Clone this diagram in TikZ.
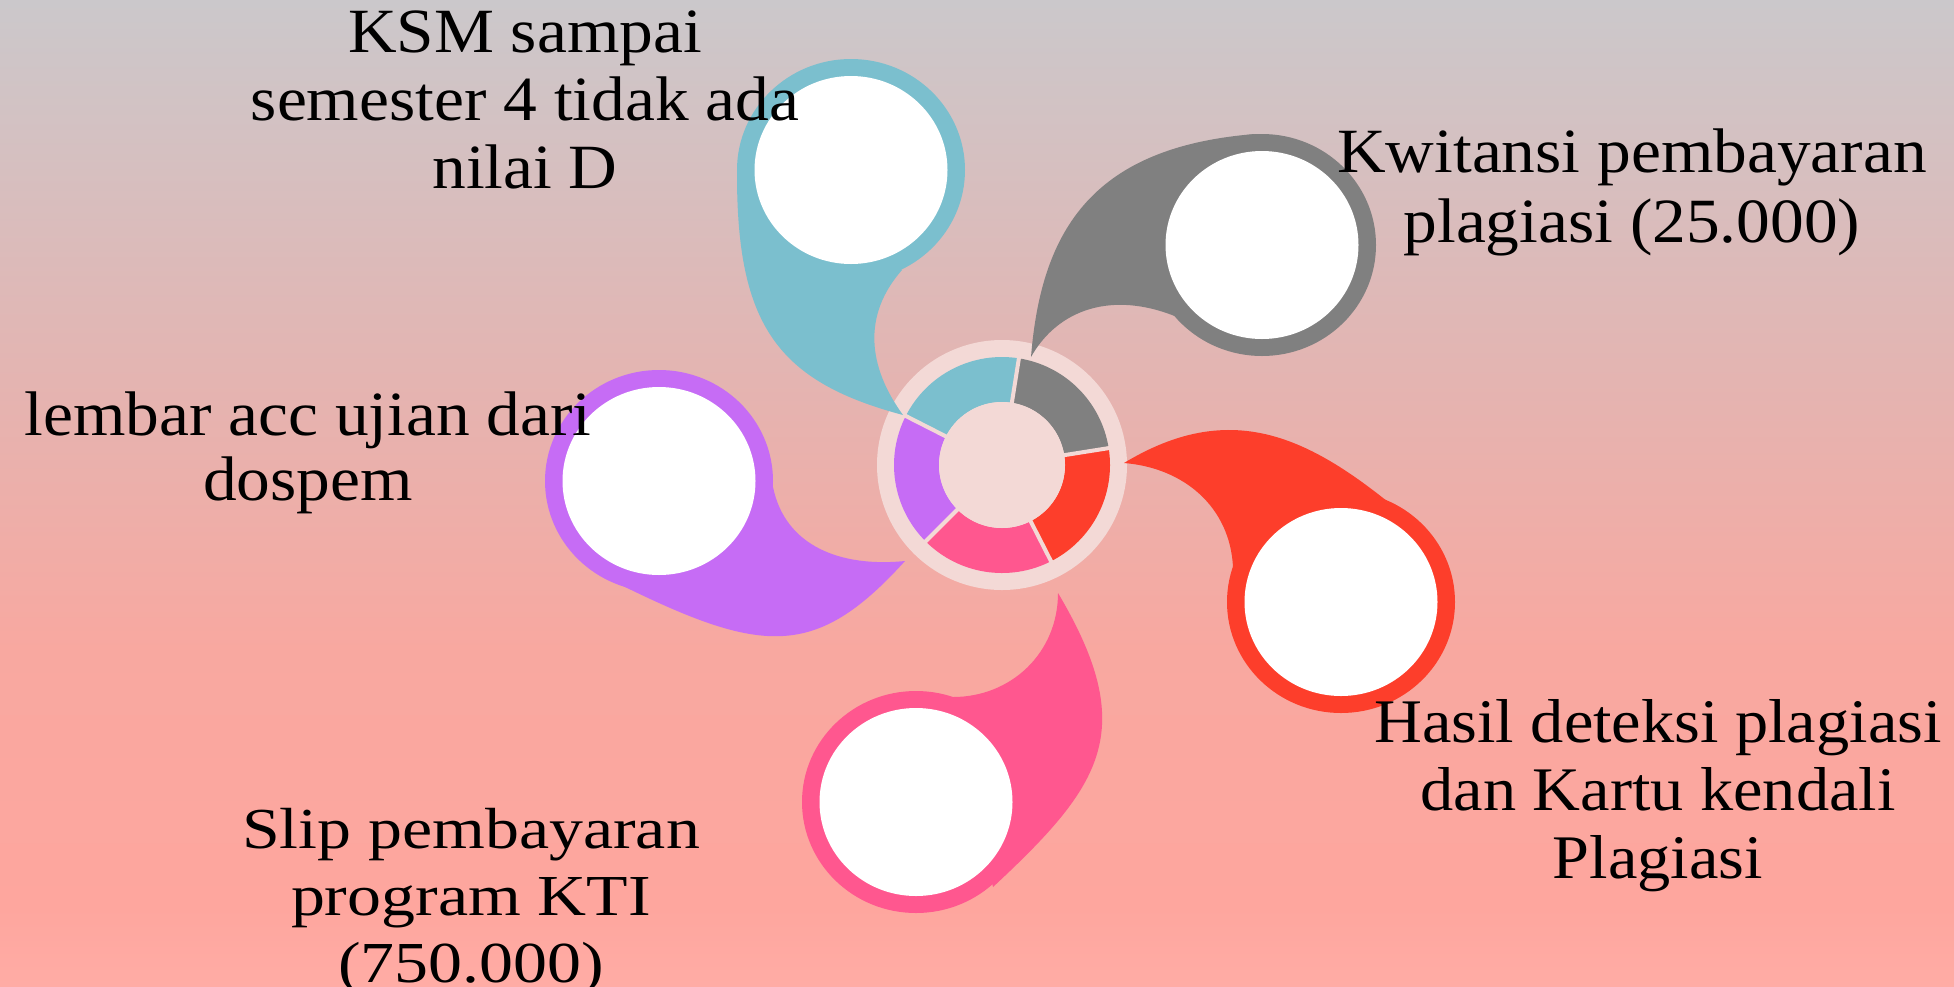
\documentclass[tikz,border=0pt]{standalone}
\usepackage{fontspec}
\setmainfont{Liberation Serif}
\newfontfamily\lblfont[FakeStretch=1.07]{Liberation Serif}
\newfontfamily\slipfont[FakeStretch=1.17]{Liberation Serif}

\definecolor{cyanp}{RGB}{123,191,206}
\definecolor{grayp}{RGB}{128,128,128}
\definecolor{redp}{RGB}{253,62,43}
\definecolor{pinkp}{RGB}{255,87,143}
\definecolor{purplep}{RGB}{198,108,245}
\definecolor{ringc}{RGB}{243,217,214}
\definecolor{bgA}{RGB}{255,172,165}
\definecolor{bgB}{RGB}{254,166,158}
\definecolor{bgC}{RGB}{248,168,160}
\definecolor{bgD}{RGB}{228,180,177}
\definecolor{bgE}{RGB}{203,200,203}

\pgfdeclareverticalshading{bgshade}{100bp}{color(0bp)=(bgA); color(25bp)=(bgA); color(29bp)=(bgB); color(42bp)=(bgC); color(55.7bp)=(bgD); color(75bp)=(bgE); color(100bp)=(bgE)}

\newcommand\lblbox[1]{\begin{tabular}[t]{@{}c@{}}#1\end{tabular}}

\tikzset{
  outerc/.style={x radius=114, y radius=111},
  innerc/.style={x radius=96.5, y radius=94},
  labeltext/.style={anchor=base, inner sep=0pt, text=black}
}

\begin{document}
\begin{tikzpicture}[x=1pt,y=-1pt]
\useasboundingbox (0,0) rectangle (1954,986);
\shade[shading=bgshade] (0,0) rectangle (1954,986);

% centre ring
\begin{scope}[shift={(1002,465)}]
  \coordinate (hub) at (0,0);
  \fill[ringc] (hub) circle[radius=125];
  \fill[grayp]   (-9:108)   arc[start angle=-9,   end angle=-81,  radius=108] -- (-81:63)  arc[start angle=-81,  end angle=-9,   radius=63] -- cycle;
  \fill[cyanp]   (-81:108)  arc[start angle=-81,  end angle=-153, radius=108] -- (-153:63) arc[start angle=-153, end angle=-81,  radius=63] -- cycle;
  \fill[purplep] (-153:108) arc[start angle=-153, end angle=-225, radius=108] -- (-225:63) arc[start angle=-225, end angle=-153, radius=63] -- cycle;
  \fill[pinkp]   (-225:108) arc[start angle=-225, end angle=-297, radius=108] -- (-297:63) arc[start angle=-297, end angle=-225, radius=63] -- cycle;
  \fill[redp]    (-297:108) arc[start angle=-297, end angle=-369, radius=108] -- (-369:63) arc[start angle=-369, end angle=-297, radius=63] -- cycle;
  \foreach \a in {-9,-81,-153,-225,-297} \draw[ringc, line width=4] (hub) -- (\a:112);
  \fill[ringc] (hub) circle[radius=63];
\end{scope}

% cyan petal
\coordinate (cyC) at (851,170);
\fill[cyanp] (cyC) ellipse[outerc];
\fill[cyanp] (903,415) .. controls (777.4,381.5) and (737,325) .. (737,175) -- (902,270) .. controls (862.4,315) and (867.6,366.4) .. (903,415) -- cycle;
\fill[white] (cyC) ellipse[innerc];

% gray petal
\coordinate (grC) at (1262,245);
\fill[grayp] (grC) ellipse[outerc];
\fill[grayp] (1031,357) .. controls (1041.4,227) and (1095,146.8) .. (1255,134) -- (1177,317) .. controls (1112.6,290.4) and (1058,309) .. (1031,357) -- cycle;
\fill[white] (grC) ellipse[innerc];

% red petal
\coordinate (rdC) at (1341,602);
\fill[redp] (rdC) ellipse[outerc];
\fill[redp] (1124,463) .. controls (1244.4,390.2) and (1328,447.6) .. (1433,540) -- (1233,567) .. controls (1230,507) and (1184,467.8) .. (1124,463) -- cycle;
\fill[white] (rdC) ellipse[innerc];

% pink petal
\coordinate (pkC) at (916,802);
\fill[pinkp] (pkC) ellipse[outerc];
\fill[pinkp] (1058,593) .. controls (1139.6,730.6) and (1102.5,785) .. (993,887) -- (953,697) .. controls (1011,697) and (1058,653) .. (1058,593) -- cycle;
\fill[white] (pkC) ellipse[innerc];

% purple petal
\coordinate (ppC) at (659,481);
\fill[purplep] (ppC) ellipse[outerc];
\fill[purplep] (905,561) .. controls (811.2,664.6) and (757.2,654) .. (597,573) -- (773,487) .. controls (785,545.8) and (840,567.5) .. (905,561) -- cycle;
\fill[white] (ppC) ellipse[innerc];

% labels
\node[labeltext, font=\lblfont\fontsize{63}{68}\selectfont] (tksm) at (525,52) {\lblbox{KSM sampai\\semester 4 tidak ada\\nilai D}};
\node[labeltext, font=\lblfont\fontsize{63}{70}\selectfont] (tkwi) at (1632,172) {\lblbox{Kwitansi pembayaran\\plagiasi (25.000)}};
\node[labeltext, font=\lblfont\fontsize{63}{65}\selectfont] (tlem) at (308,435) {\lblbox{lembar acc ujian dari\\dospem}};
\node[labeltext, font=\lblfont\fontsize{62}{68}\selectfont] (thas) at (1658,742) {\lblbox{Hasil deteksi plagiasi\\dan Kartu kendali\\Plagiasi}};
\node[labeltext, font=\slipfont\fontsize{58}{67}\selectfont] (tslp) at (471,848) {\lblbox{Slip pembayaran\\program KTI\\(750.000)}};
\end{tikzpicture}
\end{document}
